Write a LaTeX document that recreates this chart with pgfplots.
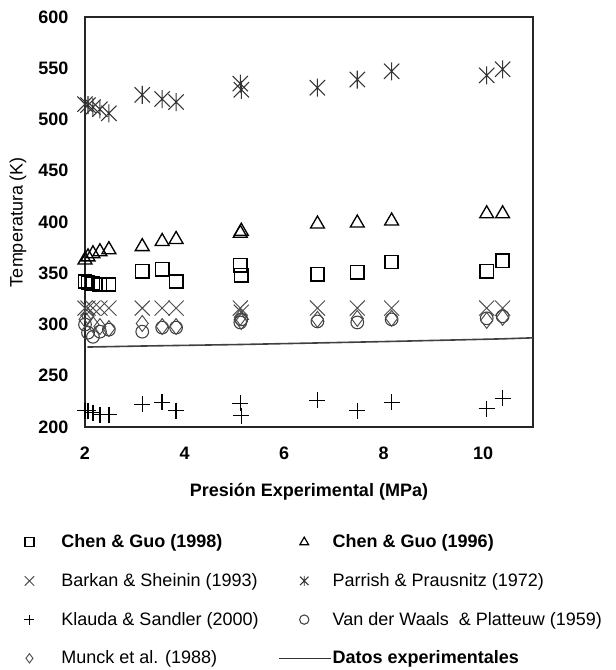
\documentclass[border=0pt]{standalone}
\usepackage{fontspec}
\setmainfont{Liberation Sans}
\usepackage{pgfplots}
\pgfplotsset{compat=1.18}
\usetikzlibrary{plotmarks}

% asterisk like the reference: vertical bar plus a steep cross
\pgfdeclareplotmark{xast}{%
  \pgfpathmoveto{\pgfqpoint{0pt}{\pgfplotmarksize}}%
  \pgfpathlineto{\pgfqpoint{0pt}{-\pgfplotmarksize}}%
  \pgfpathmoveto{\pgfqpoint{-0.85\pgfplotmarksize}{0.85\pgfplotmarksize}}%
  \pgfpathlineto{\pgfqpoint{0.85\pgfplotmarksize}{-0.85\pgfplotmarksize}}%
  \pgfpathmoveto{\pgfqpoint{-0.85\pgfplotmarksize}{-0.85\pgfplotmarksize}}%
  \pgfpathlineto{\pgfqpoint{0.85\pgfplotmarksize}{0.85\pgfplotmarksize}}%
  \pgfusepathqstroke}

\newcommand{\fs}{\fontsize{13.5}{16}\selectfont}

\begin{document}
\begin{tikzpicture}
\begin{axis}[
    scale only axis,
    width=336pt, height=307.5pt,
    xmin=2, xmax=11,
    ymin=200, ymax=600,
    xtick={2,4,6,8,10},
    ytick={200,250,...,600},
    major tick length=0pt,
    axis line style={black!85, line width=1pt},
    clip=false,
    /pgf/number format/assume math mode=true,
    tick label style={font=\bfseries\fs},
    xticklabel style={yshift=-11.5pt},
    yticklabel style={xshift=-9pt},
    xlabel={Presión Experimental (MPa)},
    xlabel style={at={(rel axis cs:0.5,0)}, anchor=center, yshift=-48.75pt, font=\bfseries\fs},
    ylabel={Temperatura (K)},
    ylabel style={at={(axis description cs:-0.1496,0.5)}, anchor=center, font=\fs},
    legend columns=2,
    legend style={
        at={(rel axis cs:0,0)}, anchor=north west,
        xshift=-45.4pt, yshift=-80.75pt,
        draw=none, fill=none, inner sep=0pt, outer sep=0pt,
        font=\fs, row sep=17.75pt,
        nodes={inner sep=0pt},
        /tikz/column 1/.style={column sep=20.25pt},
        /tikz/column 2/.style={column sep=12.75pt},
        /tikz/column 3/.style={column sep=0.5pt},
    },
    legend cell align=left,
]
\coordinate (bl) at (rel axis cs:0,0);

% Chen & Guo (1998)
\addplot[only marks, mark=square, mark size=5pt, line width=1.2pt, black, forget plot]
coordinates {(2.00,342)(2.06,341)(2.16,340)(2.30,339)(2.48,339)(3.15,352)(3.55,354)(3.83,342)
             (5.12,358)(5.14,348)(6.67,349)(7.47,351)(8.16,361)(10.07,352)(10.39,362)};
% Chen & Guo (1996)
\addplot[only marks, mark=triangle, mark size=6pt, line width=1pt, black, forget plot]
coordinates {(2.00,363)(2.06,366)(2.16,369)(2.30,371)(2.48,373)(3.15,376)(3.55,381)(3.83,383)
             (5.12,389)(5.14,391)(6.67,398)(7.47,399)(8.16,401)(10.07,408)(10.39,408)};
% Barkan & Sheinin (1993)
\addplot[only marks, mark=x, mark size=8pt, line width=0.7pt, black!70, forget plot]
coordinates {(2.00,316)(2.06,316)(2.16,316)(2.30,316)(2.48,316)(3.15,316)(3.55,316)(3.83,316)
             (5.12,316)(5.14,312)(6.67,316)(7.47,316)(8.16,316)(10.07,316)(10.39,316)};
% Parrish & Prausnitz (1972)
\addplot[only marks, mark=xast, mark size=6.75pt, line width=0.8pt, black!80, forget plot]
coordinates {(2.00,515)(2.06,514)(2.16,512)(2.30,510)(2.48,506)(3.15,524)(3.55,520)(3.83,517)
             (5.12,535)(5.14,529)(6.67,531)(7.47,539)(8.16,547)(10.07,543)(10.39,549)};
% Klauda & Sandler (2000)
\addplot[only marks, mark=+, mark size=6pt, line width=1pt, black, forget plot]
coordinates {(2.00,216)(2.06,216)(2.16,214)(2.30,212)(2.48,212)(3.15,222)(3.55,224)(3.83,216)
             (5.12,223)(5.14,211)(6.67,226)(7.47,216)(8.16,224)(10.07,218)(10.39,228)};
% Van der Waals & Platteuw (1959)
\addplot[only marks, mark=o, mark size=4.75pt, line width=0.8pt, black!75, forget plot]
coordinates {(2.00,300)(2.06,292)(2.16,288)(2.30,293)(2.48,295)(3.15,293)(3.55,297)(3.83,297)
             (5.12,302)(5.14,305)(6.67,303)(7.47,302)(8.16,305)(10.07,306)(10.39,308)};
% Munck et al. (1988)
\addplot[only marks, mark=diamond, mark size=6pt, line width=0.7pt, black!70, forget plot]
coordinates {(2.00,305)(2.06,308)(2.16,300)(2.30,298)(2.48,296)(3.15,301)(3.55,298)(3.83,298)
             (5.12,307)(5.14,303)(6.67,305)(7.47,306)(8.16,306)(10.07,304)(10.39,307)};
% Datos experimentales
\addplot[no marks, line width=1.2pt, black!75, forget plot]
coordinates {(2.05,278)(3.15,279)(5.14,280.5)(6.67,282)(8.16,283.5)(10.39,286)(11,287)};

\addlegendimage{only marks, mark=square, mark size=3.4pt, line width=1pt, black}
\addlegendentry{\makebox[150pt][l]{\bfseries Chen \& Guo (1998)}}
\addlegendimage{only marks, mark=triangle, mark size=3.8pt, line width=0.9pt, black}
\addlegendentry{\bfseries Chen \& Guo (1996)}
\addlegendimage{only marks, mark=x, mark size=5pt, line width=0.7pt, black!70}
\addlegendentry{\makebox[150pt][l]{Barkan \& Sheinin (1993)}}
\addlegendimage{only marks, mark=xast, mark size=3.75pt, line width=0.7pt, black!80}
\addlegendentry{Parrish \& Prausnitz (1972)}
\addlegendimage{only marks, mark=+, mark size=3.75pt, line width=0.9pt, black}
\addlegendentry{\makebox[150pt][l]{Klauda \& Sandler (2000)}}
\addlegendimage{only marks, mark=o, mark size=3.5pt, line width=0.8pt, black!75}
\addlegendentry{Van der Waals \ \& Platteuw (1959)}
\addlegendimage{only marks, mark=diamond, mark size=3.5pt, line width=0.7pt, black!70}
\addlegendentry{\makebox[150pt][l]{Munck et al. (1988)}}
\addlegendimage{legend image code/.code={\draw[black!80, line width=1.2pt] (-10.2pt,0pt) -- (28.8pt,0pt);}}
\addlegendentry{\bfseries Datos experimentales}
\end{axis}
\pgfresetboundingbox
\path (bl) ++(-63.75pt,-182.25pt) rectangle ++(461.25pt,502.5pt);
\end{tikzpicture}
\end{document}
